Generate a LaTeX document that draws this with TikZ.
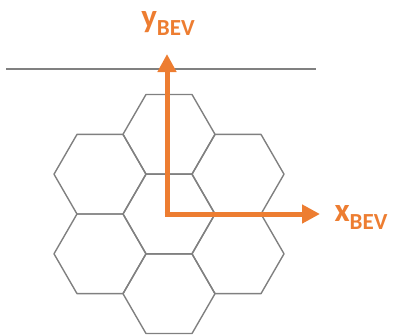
\documentclass[tikz,border=0pt]{standalone}
\usepackage{fontspec}
\setmainfont{Carlito}
\usepackage{tikz}
\usetikzlibrary{arrows.meta}

\definecolor{axisorange}{HTML}{ED7D31}
\definecolor{cellgray}{HTML}{808080}

\tikzset{
  cell/.style={draw=cellgray, line width=1.4pt, line join=round},
  axis/.style={draw=axisorange, line width=5pt,
    -{Triangle[length=18pt,width=18pt]}},
  axislabel/.style={text=axisorange, font=\fontsize{33}{33}\selectfont\bfseries, inner sep=0pt},
}
\newcommand{\sub}[1]{\lower8pt\hbox{\fontsize{23}{23}\selectfont #1}}

\begin{document}
\begin{tikzpicture}[x=1pt, y=-1pt]
  \useasboundingbox (0,0) rectangle (398,335);

  % ground line
  \coordinate (gl) at (6,69);
  \coordinate (gr) at (316,69);
  \draw[cellgray, line width=1.1pt] (gl) -- (gr);

  % hexagonal cells, side 46
  \foreach \cx/\cy in {169/214, 169/134.3, 169/293.7,
                       100/174.2, 100/253.8, 238/174.2, 238/253.8} {
    \draw[cell] (\cx,\cy) ++(0:46) -- ++(120:46) -- ++(180:46)
      -- ++(240:46) -- ++(300:46) -- ++(0:46) -- cycle;
  }

  % BEV frame
  \coordinate (o) at (167,214);
  \coordinate (ytip) at (167,54);
  \coordinate (xtip) at (320,214);
  \draw[axis] ([yshift=2.5pt]o) -- (ytip);
  \draw[axis] ([xshift=-2.5pt]o) -- (xtip);

  \node[axislabel] (ylab) at (168,23) {y\sub{BEV}};
  \node[axislabel] (xlab) at (361,217) {x\sub{BEV}};
\end{tikzpicture}
\end{document}
